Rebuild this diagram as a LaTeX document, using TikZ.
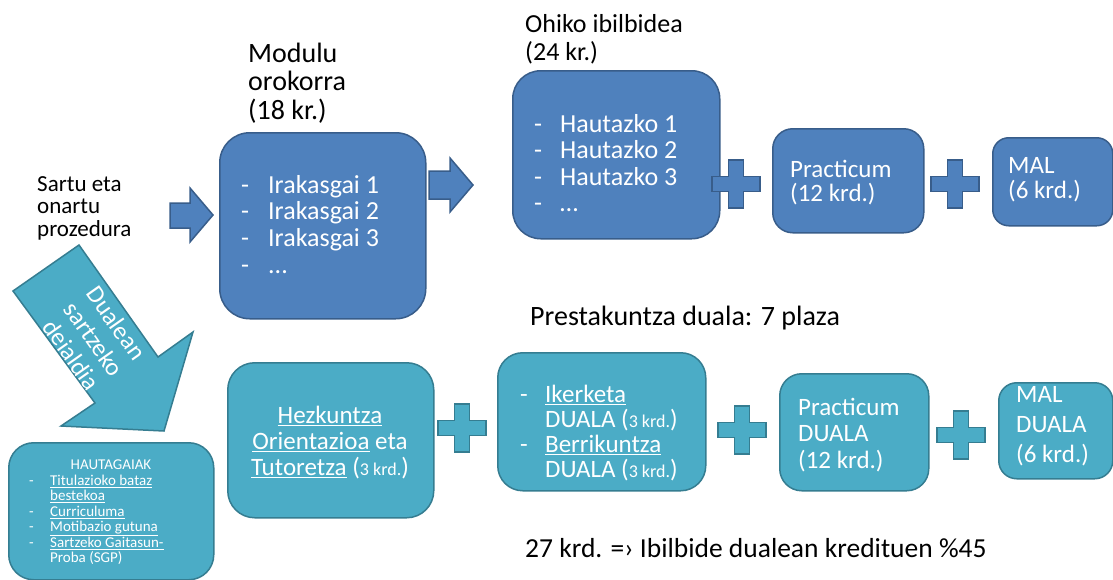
\documentclass[tikz,border=0pt]{standalone}
\usepackage{fontspec}
\setmainfont{Carlito}
\definecolor{bfill}{HTML}{4F81BD}
\definecolor{bline}{HTML}{385D8A}
\definecolor{tfill}{HTML}{4BACC6}
\definecolor{tline}{HTML}{357D91}
\newcommand\fs[2]{\fontsize{#1}{#2}\selectfont\lineskiplimit=-100pt\relax}
\newcommand\fl{\rule{0pt}{0.8em}}
\newcommand\smk[1]{{\fontsize{18}{18}\selectfont #1}}
\newcommand\dsh[1]{\makebox[#1][l]{-}}
\tikzset{
  bbox/.style={draw=bline, fill=bfill, line width=1.5pt, inner sep=0pt, anchor=north west},
  tbox/.style={draw=tline, fill=tfill, line width=1.5pt, inner sep=0pt, anchor=north west},
  txt/.style={inner sep=0pt, anchor=north west, align=left, text=black},
  wtxt/.style={txt, text=white},
  bshape/.style={draw=bline, fill=bfill, line width=1.5pt},
  tshape/.style={draw=tline, fill=tfill, line width=1.5pt},
  plussign/.pic={\path[pic actions] (-24,-7.5) -- (-7.5,-7.5) -- (-7.5,-24) -- (7.5,-24) -- (7.5,-7.5) -- (24,-7.5) -- (24,7.5) -- (7.5,7.5) -- (7.5,24) -- (-7.5,24) -- (-7.5,7.5) -- (-24,7.5) -- cycle;}
}
\begin{document}
\begin{tikzpicture}[x=1pt,y=-1pt]
\fill[white] (0,0) rectangle (1113,579);
\useasboundingbox (0,0) rectangle (1113,579);

% ---- top row boxes
\node[bbox, minimum width=206pt, minimum height=186pt, rounded corners=30pt] (irak) at (219,132) {};
\node[bbox, minimum width=207pt, minimum height=168pt, rounded corners=28pt] (haut) at (512,70) {};
\node[bbox, minimum width=151pt, minimum height=104pt, rounded corners=20pt] (prac) at (772,128) {};
\node[bbox, minimum width=120pt, minimum height=88pt, rounded corners=16pt] (mal) at (992,137) {};

% ---- bottom row boxes
\node[tbox, minimum width=205pt, minimum height=137pt, rounded corners=25pt] (cand) at (8,442) {};
\node[tbox, minimum width=206pt, minimum height=155pt, rounded corners=27pt] (hezk) at (227,362) {};
\node[tbox, minimum width=208pt, minimum height=138pt, rounded corners=25pt] (iker) at (497,352) {};
\node[tbox, minimum width=149pt, minimum height=117pt, rounded corners=22pt] (pracd) at (779,373) {};
\node[tbox, minimum width=114pt, minimum height=96pt, rounded corners=18pt] (mald) at (998,382) {};

% ---- block arrows
\draw[bshape] (170,203) -- (190,203) -- (190,188) -- (213,215) -- (190,242) -- (190,228) -- (170,228) -- cycle;
\draw[bshape] (429,171) -- (450,171) -- (450,158) -- (473,185) -- (450,212) -- (450,199) -- (429,199) -- cycle;
\draw[tshape] (13,291) -- (79,245) -- (158,357) -- (193,332) -- (164,431) -- (61,426) -- (95,403) -- cycle;

% ---- plus signs
\pic[bshape] at (736,184) {plussign};
\pic[bshape] at (955,184) {plussign};
\pic[tshape] at (462,428) {plussign};
\pic[tshape] at (742,430) {plussign};
\pic[tshape] at (961,435) {plussign};

% ---- texts (black)
\node[txt, font={\fs{23}{22.5}}] (sartu) at (37,172.6) {\fl Sartu eta\\onartu\\prozedura};
\node[txt, font={\fs{28}{28.5}}] (modulu) at (248,39.6) {\fl Modulu\\orokorra\\(18 kr.)};
\node[txt, font={\fs{26}{28}}] (ohiko) at (525,11.2) {\fl Ohiko ibilbidea\\(24 kr.)};
\node[txt, font={\fs{28}{30}}] (prest) at (530,302.6) {\fl Prestakuntza duala: 7 plaza};
\node[txt, font={\fs{27.5}{30}}] (kred) at (525,535) {\fl 27 krd. =› Ibilbide dualean kredituen \%45};

% ---- texts (white)
\node[wtxt, font={\fs{26}{26.7}}] (irakt) at (241,172.2) {\fl\dsh{27pt}Irakasgai 1\\\dsh{27pt}Irakasgai 2\\\dsh{27pt}Irakasgai 3\\\dsh{27pt}...};
\node[wtxt, font={\fs{26}{26.5}}] (hautt) at (534,111.2) {\fl\dsh{26pt}Hautazko 1\\\dsh{26pt}Hautazko 2\\\dsh{26pt}Hautazko 3\\\dsh{26pt}…};
\node[wtxt, font={\fs{25}{24}}] (pract) at (790,157) {\fl Practicum\\(12 krd.)};
\node[wtxt, font={\fs{25}{25.5}}] (malt) at (1008,153) {\fl MAL\\(6 krd.)};

\node[wtxt, anchor=north, align=center, font={\fs{15}{15.5}}] (candh) at (111,457) {\fl HAUTAGAIAK};
\node[wtxt, font={\fs{15}{15.5}}] (candt) at (29,473) {\fl\dsh{21pt}\underline{Titulazioko bataz}\\\hspace*{21pt}\underline{bestekoa}\\\dsh{21pt}\underline{Curriculuma}\\\dsh{21pt}\underline{Motibazio gutuna}\\\dsh{21pt}\underline{Sartzeko Gaitasun-}\\\hspace*{21pt}Proba (SGP)};
\node[wtxt, anchor=north, align=center, font={\fs{25}{26}}] (hezkt) at (330,403) {\fl\underline{Hezkuntza}\\\underline{Orientazioa} eta\\\underline{Tutoretza} (\smk{3 krd.})};
\node[wtxt, font={\fs{25}{25}}] (ikert) at (520,382) {\fl\dsh{25pt}\underline{Ikerketa}\\\hspace*{25pt}DUALA (\smk{3 krd.})\\\dsh{25pt}\underline{Berrikuntza}\\\hspace*{25pt}DUALA (\smk{3 krd.})};
\node[wtxt, font={\fs{25}{26.5}}] (pracdt) at (798,395) {\fl Practicum\\DUALA\\(12 krd.)};
\node[wtxt, font={\fs{25}{30}}] (maldt) at (1016,382) {\fl MAL\\DUALA\\(6 krd.)};
\node[wtxt, anchor=center, align=center, rotate=-54.8, font={\fs{25}{27.5}}] (duala) at (94,339) {Dualean\\sartzeko\\deialdia};
\end{tikzpicture}
\end{document}
